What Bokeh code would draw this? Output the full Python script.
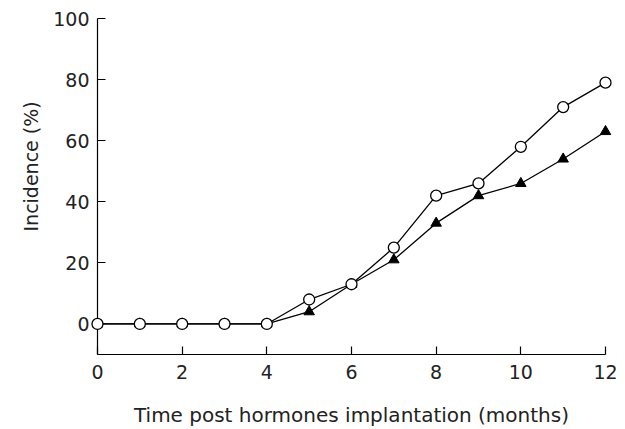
from bokeh.plotting import figure
from bokeh.models import Range1d, FixedTicker, Title
from bokeh.embed import file_html
from bokeh.resources import INLINE

months = [0, 1, 2, 3, 4, 5, 6, 7, 8, 9, 10, 11, 12]
circles = [0, 0, 0, 0, 0, 8, 13, 25, 42, 46, 58, 71, 79]
triangles = [0, 0, 0, 0, 0, 4, 13, 21, 33, 42, 46, 54, 63]
x_ticks = [0, 2, 4, 6, 8, 10, 12]
y_ticks = [0, 20, 40, 60, 80, 100]
x_title = "Time post hormones implantation (months)"
y_title = "Incidence (%)"

FONT = "DejaVu Sans"

p = figure(width=625, height=429, output_backend="svg", toolbar_location=None,
           x_range=Range1d(0, 12), y_range=Range1d(-10, 100),
           min_border_left=97, min_border_right=20, min_border_top=18,
           min_border_bottom=74)
p.outline_line_color = None
p.grid.visible = False
p.background_fill_color = "white"
p.border_fill_color = "white"

for ax in (p.xaxis[0], p.yaxis[0]):
    ax.axis_line_color = "black"
    ax.axis_line_width = 1.2
    ax.major_tick_line_color = "black"
    ax.major_tick_line_width = 1.2
    ax.major_tick_in = 8
    ax.major_tick_out = 0
    ax.minor_tick_line_color = None
    ax.major_label_text_font = FONT
    ax.major_label_text_font_size = "19px"
    ax.major_label_text_color = "#222222"

p.xaxis[0].major_label_standoff = 10
p.yaxis[0].major_label_standoff = 8
p.xaxis[0].ticker = FixedTicker(ticks=x_ticks)
p.yaxis[0].ticker = FixedTicker(ticks=y_ticks)
p.xaxis[0].axis_label = x_title
p.xaxis[0].axis_label_text_font = FONT
p.xaxis[0].axis_label_text_font_size = "20px"
p.xaxis[0].axis_label_text_font_style = "normal"
p.xaxis[0].axis_label_text_color = "#222222"
p.xaxis[0].axis_label_standoff = 21

p.add_layout(Title(text=y_title, align="left", offset=123,
                   text_font=FONT, text_font_size="19px",
                   text_font_style="normal", text_color="#222222",
                   standoff=18), "left")

p.line(months, triangles, line_color="black", line_width=1.3, level="overlay")
p.line(months, circles, line_color="black", line_width=1.3, level="overlay")
p.scatter(months, triangles, marker="triangle", size=10.5, fill_color="black",
          line_color="black", line_width=1, level="overlay")
p.scatter(months, circles, marker="circle", size=11, fill_color="white",
          line_color="black", line_width=1.3, level="overlay")

open("out.html", "w").write(file_html(p, INLINE))
